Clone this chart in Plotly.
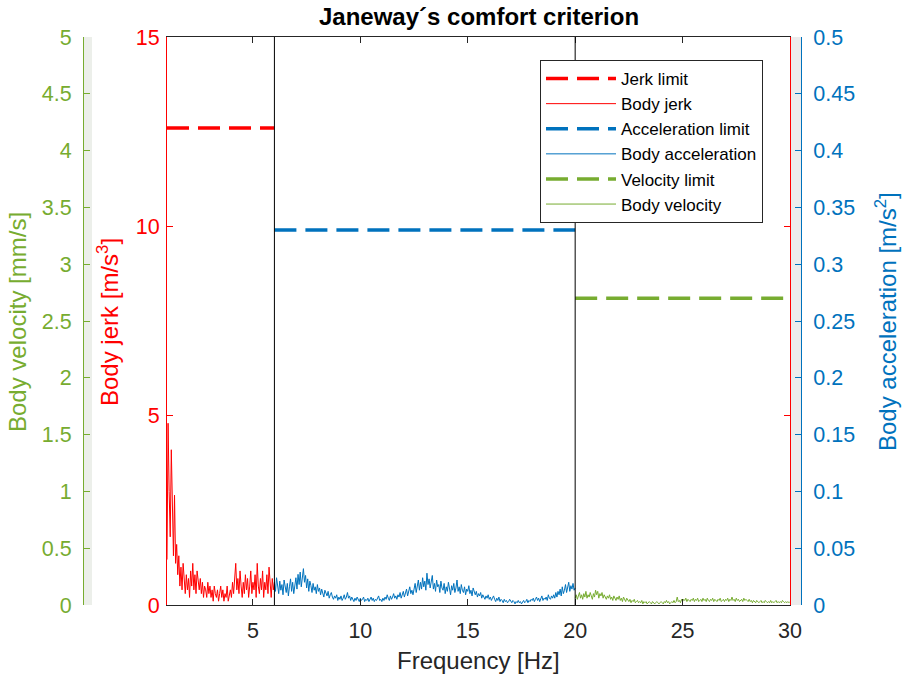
import numpy as np
import plotly.graph_objects as go

# ---- data -------------------------------------------------------------
# frequency bins (Hz) for each band
freq_jerk = np.round(np.arange(1.00, 6.0001, 0.05), 2)
freq_acc = np.round(np.arange(6.00, 20.0001, 0.05), 2)
freq_vel = np.round(np.arange(20.00, 30.0001, 0.05), 2)

# body jerk spectrum, 1-6 Hz [m/s^3]
body_jerk = [
    1.2, 4.8, 3.0, 1.8, 4.1, 2.6, 1.3, 2.9, 1.1, 1.6, 0.8, 1.3, 0.5, 1.0, 0.4, 1.1, 0.6, 0.3, 0.8, 0.4,
    0.7, 0.2, 0.9, 0.5, 1.1, 0.4, 0.8, 0.3, 0.9, 0.6, 0.4, 0.7, 0.3, 0.6, 0.2, 0.5, 0.4, 0.2, 0.6, 0.3,
    0.5, 0.2, 0.4, 0.1, 0.5, 0.3, 0.2, 0.4, 0.1, 0.3, 0.5, 0.2, 0.4, 0.1, 0.3, 0.2, 0.5, 0.1, 0.3, 0.4,
    0.2, 0.6, 0.3, 0.8, 1.1, 0.4, 0.7, 0.3, 0.9, 0.5, 0.2, 0.6, 0.3, 0.8, 0.4, 0.7, 0.2, 0.5, 0.9, 0.3,
    0.6, 0.4, 0.8, 0.2, 1.1, 0.5, 0.3, 0.7, 0.4, 0.9, 0.2, 0.6, 0.4, 0.8, 0.3, 1.0, 0.5, 0.2, 0.7, 0.4,
    0.6,
]

# body acceleration spectrum, 6-20 Hz [m/s^2]
body_acc = [
    0.020, 0.012, 0.024, 0.015, 0.010, 0.021, 0.013, 0.018, 0.009, 0.022, 0.014, 0.011, 0.019, 0.008, 0.016, 0.023, 0.012, 0.020, 0.010, 0.017,
    0.024, 0.014, 0.027, 0.018, 0.029, 0.016, 0.022, 0.032, 0.020, 0.026, 0.015, 0.023, 0.012, 0.021, 0.017, 0.011, 0.019, 0.013, 0.016, 0.010,
    0.018, 0.012, 0.015, 0.009, 0.014, 0.011, 0.007, 0.013, 0.010, 0.008, 0.012, 0.006, 0.009, 0.011, 0.007, 0.005, 0.008, 0.006, 0.009, 0.004,
    0.007, 0.005, 0.008, 0.004, 0.006, 0.009, 0.005, 0.007, 0.011, 0.006, 0.008, 0.004, 0.007, 0.005, 0.003, 0.006, 0.004, 0.007, 0.005, 0.003,
    0.006, 0.004, 0.005, 0.007, 0.003, 0.005, 0.004, 0.006, 0.003, 0.005, 0.007, 0.004, 0.006, 0.003, 0.005, 0.004, 0.006, 0.008, 0.004, 0.005,
    0.003, 0.006, 0.004, 0.007, 0.005, 0.009, 0.006, 0.004, 0.008, 0.005, 0.007, 0.010, 0.006, 0.008, 0.005, 0.009, 0.007, 0.011, 0.006, 0.009,
    0.012, 0.007, 0.010, 0.014, 0.008, 0.012, 0.016, 0.010, 0.013, 0.009, 0.015, 0.019, 0.011, 0.017, 0.022, 0.013, 0.020, 0.014, 0.024, 0.016,
    0.021, 0.013, 0.028, 0.018, 0.023, 0.015, 0.020, 0.026, 0.014, 0.019, 0.012, 0.022, 0.016, 0.018, 0.011, 0.021, 0.015, 0.013, 0.019, 0.010,
    0.016, 0.012, 0.020, 0.014, 0.009, 0.017, 0.013, 0.019, 0.011, 0.015, 0.022, 0.012, 0.016, 0.010, 0.018, 0.013, 0.011, 0.016, 0.009, 0.014,
    0.012, 0.017, 0.010, 0.013, 0.008, 0.015, 0.011, 0.009, 0.012, 0.007, 0.010, 0.008, 0.011, 0.006, 0.009, 0.007, 0.005, 0.008, 0.006, 0.009,
    0.005, 0.007, 0.004, 0.006, 0.008, 0.005, 0.003, 0.006, 0.004, 0.007, 0.003, 0.005, 0.004, 0.002, 0.005, 0.003, 0.004, 0.002, 0.003, 0.005,
    0.003, 0.002, 0.004, 0.003, 0.001, 0.003, 0.002, 0.004, 0.002, 0.003, 0.001, 0.003, 0.004, 0.002, 0.003, 0.005, 0.002, 0.004, 0.003, 0.005,
    0.004, 0.006, 0.003, 0.005, 0.007, 0.004, 0.006, 0.003, 0.005, 0.008, 0.004, 0.006, 0.005, 0.007, 0.004, 0.009, 0.006, 0.005, 0.008, 0.006,
    0.009, 0.006, 0.011, 0.007, 0.012, 0.009, 0.014, 0.008, 0.016, 0.010, 0.013, 0.018, 0.011, 0.015, 0.020, 0.012, 0.017, 0.014, 0.019, 0.013,
    0.015,
]

# body velocity spectrum, 20-30 Hz [mm/s]
body_vel = [
    0.06, 0.09, 0.05, 0.08, 0.11, 0.06, 0.09, 0.05, 0.10, 0.07, 0.12, 0.06, 0.09, 0.07, 0.11, 0.08, 0.05, 0.10, 0.07, 0.13,
    0.09, 0.12, 0.06, 0.10, 0.08, 0.11, 0.06, 0.09, 0.07, 0.05, 0.08, 0.06, 0.09, 0.05, 0.07, 0.04, 0.08, 0.06, 0.04, 0.07,
    0.05, 0.08, 0.04, 0.06, 0.03, 0.07, 0.05, 0.03, 0.06, 0.04, 0.03, 0.05, 0.02, 0.04, 0.03, 0.05, 0.02, 0.03, 0.04, 0.02,
    0.03, 0.02, 0.04, 0.01, 0.03, 0.02, 0.03, 0.01, 0.02, 0.03, 0.02, 0.01, 0.03, 0.02, 0.01, 0.02, 0.03, 0.02, 0.01, 0.02,
    0.03, 0.02, 0.01, 0.03, 0.02, 0.04, 0.02, 0.03, 0.01, 0.02, 0.03, 0.02, 0.04, 0.02, 0.03, 0.07, 0.03, 0.04, 0.02, 0.05,
    0.03, 0.05, 0.04, 0.06, 0.03, 0.05, 0.04, 0.03, 0.05, 0.04, 0.06, 0.03, 0.05, 0.04, 0.06, 0.03, 0.04, 0.05, 0.03, 0.06,
    0.04, 0.05, 0.03, 0.06, 0.04, 0.03, 0.05, 0.04, 0.06, 0.03, 0.05, 0.04, 0.03, 0.05, 0.04, 0.06, 0.03, 0.04, 0.05, 0.03,
    0.05, 0.04, 0.06, 0.03, 0.05, 0.04, 0.07, 0.04, 0.05, 0.03, 0.06, 0.04, 0.05, 0.03, 0.04, 0.05, 0.03, 0.06, 0.04, 0.05,
    0.04, 0.03, 0.05, 0.03, 0.04, 0.02, 0.04, 0.03, 0.02, 0.04, 0.03, 0.02, 0.03, 0.04, 0.02, 0.03, 0.02, 0.04, 0.03, 0.02,
    0.03, 0.02, 0.04, 0.02, 0.03, 0.02, 0.03, 0.04, 0.02, 0.03, 0.02, 0.03, 0.02, 0.04, 0.03, 0.02, 0.03, 0.02, 0.03, 0.02,
    0.03,
]

# Janeway limits: value and frequency band of each
jerk_limit = 12.6       # m/s^3, 1-6 Hz
jerk_band = [1, 6]
acc_limit = 0.33        # m/s^2, 6-20 Hz
acc_band = [6, 20]
vel_limit = 2.7         # mm/s, 20-30 Hz
vel_band = [20, 30]

x_ticks = [5, 10, 15, 20, 25, 30]
jerk_ticks = [0, 5, 10, 15]
acc_ticks = [0, 0.05, 0.1, 0.15, 0.2, 0.25, 0.3, 0.35, 0.4, 0.45, 0.5]
vel_ticks = [0, 0.5, 1, 1.5, 2, 2.5, 3, 3.5, 4, 4.5, 5]

# ---- styling ----------------------------------------------------------
W, H = 904, 678
RED = "#FF0000"
BLUE = "#0072BD"
GREEN = "#77AC30"
DARK = "#262626"
FONT = "Liberation Sans, Arial, sans-serif"
TICK_SIZE = 21.5
LABEL_SIZE = 24


def px(p):
    return p / W


def py(p):
    return 1 - p / H


left, right, top, bottom = 167, 790, 37, 605

fig = go.Figure()

fig.add_trace(go.Scatter(x=jerk_band, y=[jerk_limit] * 2, mode="lines", name="Jerk limit",
                         line=dict(color=RED, width=3.5, dash="22px,9px"), yaxis="y"))
fig.add_trace(go.Scatter(x=freq_jerk, y=body_jerk, mode="lines", name="Body jerk",
                         line=dict(color=RED, width=1), yaxis="y"))
fig.add_trace(go.Scatter(x=acc_band, y=[acc_limit] * 2, mode="lines", name="Acceleration limit",
                         line=dict(color=BLUE, width=3.5, dash="22px,9px"), yaxis="y2"))
fig.add_trace(go.Scatter(x=freq_acc, y=body_acc, mode="lines", name="Body acceleration",
                         line=dict(color=BLUE, width=1), yaxis="y2"))
fig.add_trace(go.Scatter(x=vel_band, y=[vel_limit] * 2, mode="lines", name="Velocity limit",
                         line=dict(color=GREEN, width=3.5, dash="22px,9px"), yaxis="y3"))
fig.add_trace(go.Scatter(x=freq_vel, y=body_vel, mode="lines", name="Body velocity",
                         line=dict(color=GREEN, width=1), yaxis="y3"))

ydom = [py(bottom), py(top)]

axis_common = dict(showgrid=False, zeroline=False, showline=True, ticks="inside",
                   ticklen=6, tickwidth=1, linewidth=1, automargin=False)

fig.update_layout(
    width=W, height=H,
    margin=dict(l=0, r=0, t=0, b=0, pad=0, autoexpand=False),
    paper_bgcolor="white", plot_bgcolor="white",
    font=dict(family=FONT, size=TICK_SIZE, color=DARK),
    xaxis=dict(domain=[px(left), px(right)], range=[1, 30], tickvals=x_ticks,
               linecolor=DARK, mirror="ticks", tickcolor=DARK, ticklabelstandoff=6,
               tickfont=dict(color=DARK, size=TICK_SIZE), anchor="y", **axis_common),
    yaxis=dict(domain=ydom, range=[0, 15], tickvals=jerk_ticks,
               linecolor=RED, tickcolor=RED, mirror="ticks", ticklabelstandoff=2,
               tickfont=dict(color=RED, size=TICK_SIZE), **axis_common),
    yaxis2=dict(range=[0, 0.5], tickvals=acc_ticks, overlaying="y", side="right",
                anchor="free", position=px(801), linecolor=BLUE, tickcolor=BLUE,
                ticklabelstandoff=7,
                tickfont=dict(color=BLUE, size=TICK_SIZE), **axis_common),
    yaxis3=dict(range=[0, 5], tickvals=vel_ticks, overlaying="y", side="left",
                anchor="free", position=px(83), linecolor=GREEN, tickcolor=GREEN,
                ticklabelstandoff=7,
                tickfont=dict(color=GREEN, size=TICK_SIZE), **axis_common),
    legend=dict(x=px(540), y=py(60), xanchor="left", yanchor="top",
                bgcolor="white", bordercolor=DARK, borderwidth=1,
                font=dict(family=FONT, size=17, color="black"),
                itemwidth=70, tracegroupgap=0, traceorder="normal"),
    showlegend=True,
)

# light strips beside the outer axes
fig.add_shape(type="rect", xref="paper", yref="paper", x0=px(790.5), x1=px(801),
              y0=py(bottom), y1=py(top), fillcolor="#ECECEC", line=dict(width=0), layer="below")
fig.add_shape(type="rect", xref="paper", yref="paper", x0=px(83), x1=px(92),
              y0=py(bottom), y1=py(top), fillcolor="#ECEFEA", line=dict(width=0), layer="below")

# band boundaries
for fb in [jerk_band[1], acc_band[1]]:
    fig.add_shape(type="line", xref="x", yref="y", x0=fb, x1=fb, y0=0, y1=15,
                  line=dict(color="black", width=1))

# title and axis titles
labels = [
    ("<b>Janeway´s comfort criterion</b>", 478.5, 17, 0, "black"),
    ("Frequency [Hz]", 478.5, 660, 0, DARK),
    ("Body velocity [mm/s]", 18, 322, -90, GREEN),
    ("Body jerk [m/s<sup>3</sup>]", 108, 322, -90, RED),
    ("Body acceleration [m/s<sup>2</sup>]", 886, 322, -90, BLUE),
]
for text, lx, ly, ang, col in labels:
    fig.add_annotation(text=text, xref="paper", yref="paper", x=px(lx), y=py(ly),
                       xanchor="center", yanchor="middle", showarrow=False,
                       textangle=ang, font=dict(family=FONT, size=LABEL_SIZE, color=col))

fig.write_html("out.html")
